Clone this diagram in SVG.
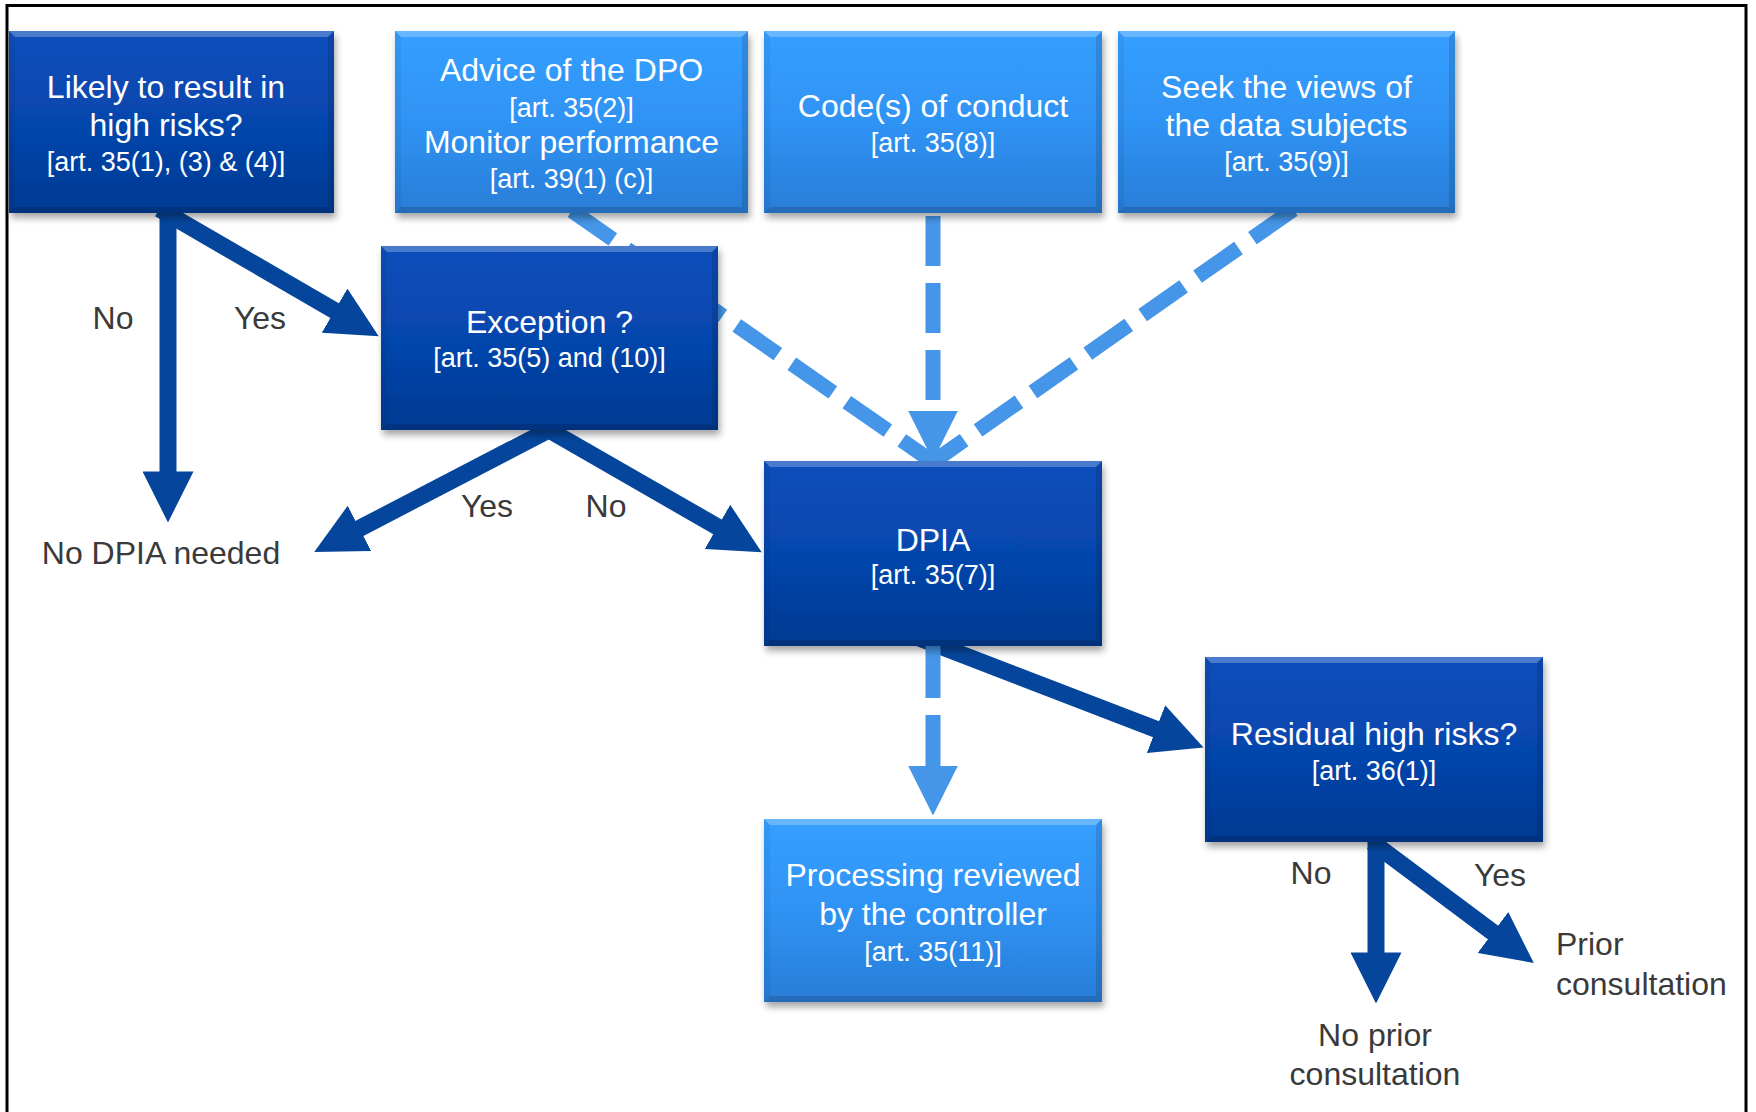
<svg xmlns="http://www.w3.org/2000/svg" width="1756" height="1112" viewBox="0 0 1756 1112">
<defs>
<linearGradient id="gDk" x1="0" y1="0" x2="0" y2="1">
<stop offset="0" stop-color="#0A4FBC"/>
<stop offset="0.5" stop-color="#0646AD"/>
<stop offset="1" stop-color="#043A92"/>
</linearGradient>
<linearGradient id="gLt" x1="0" y1="0" x2="0" y2="1">
<stop offset="0" stop-color="#359FFF"/>
<stop offset="0.5" stop-color="#2F93F4"/>
<stop offset="1" stop-color="#297DD7"/>
</linearGradient>
<filter id="sh" x="-10%" y="-10%" width="125%" height="135%">
<feDropShadow dx="2" dy="5" stdDeviation="3.5" flood-color="#000" flood-opacity="0.35"/>
</filter>
<marker id="hd" viewBox="0 0 10 10" refX="0.3" refY="5" markerWidth="3" markerHeight="3" orient="auto" markerUnits="strokeWidth">
<path d="M0,0 L10,5 L0,10 Z" fill="#05469C"/>
</marker>
<marker id="hl" viewBox="0 0 10 10" refX="0.3" refY="5" markerWidth="3.33" markerHeight="3.33" orient="auto" markerUnits="strokeWidth">
<path d="M0,0 L10,5 L0,10 Z" fill="#4596E8"/>
</marker>
</defs>
<style>
.frame{fill:none;stroke:#000;stroke-width:3}
.cd{fill:none;stroke:#05469C;stroke-width:17;stroke-linecap:butt}
.cl{fill:none;stroke:#4596E8;stroke-width:15;stroke-linecap:butt;stroke-dasharray:50 17}
.dk{fill:url(#gDk);filter:url(#sh)}
.lt{fill:url(#gLt);filter:url(#sh)}
.hi{fill:#fff;opacity:0.25}
.lo{fill:#000;opacity:0.14}
.sl{fill:#000;opacity:0.05}
.sr{fill:#000;opacity:0.12}
text{font-family:"Liberation Sans",Arial,sans-serif;text-anchor:middle}
.t{font-size:32px;fill:#fff}
.s{font-size:27px;fill:#fff}
.lb{font-size:32px;fill:#3a3a3a}
</style>
<rect width="1756" height="1112" fill="#fff"/>
<path class="frame" d="M7,1112 V5.5 H1746 V1112"/>

<g id="connectors">
<path class="cl" d="M933,462 L565,206" stroke-dashoffset="12"/>
<path class="cl" d="M933,462 L1297,207" stroke-dashoffset="12"/>
<path class="cl" d="M933,206 L933,412" stroke-dashoffset="-10" marker-end="url(#hl)"/>
<path class="cd" d="M920,638.4 L1157.4,729.7" marker-end="url(#hd)"/>
<path class="cl" d="M933,646 L933,767" style="stroke-dasharray:52 17" marker-end="url(#hl)"/>
<path class="cd" d="M168,205 L168,473" marker-end="url(#hd)"/>
<path class="cd" d="M159.4,209 L335.9,311.4" marker-end="url(#hd)"/>
<path class="cd" d="M556,426.3 L358.1,529.1" marker-end="url(#hd)"/>
<path class="cd" d="M542,426 L718.8,527.6" marker-end="url(#hd)"/>
<path class="cd" d="M1376,835 L1376,954" marker-end="url(#hd)"/>
<path class="cd" d="M1372,842 L1494.2,933.4" marker-end="url(#hd)"/>
</g>

<g id="labels">
<text class="lb" x="113" y="329">No</text>
<text class="lb" x="260" y="329">Yes</text>
<text class="lb" x="161" y="564">No DPIA needed</text>
<text class="lb" x="487" y="517">Yes</text>
<text class="lb" x="606" y="517">No</text>
<text class="lb" x="1311" y="884">No</text>
<text class="lb" x="1500" y="886">Yes</text>
<text class="lb" x="1556" y="955" style="text-anchor:start">Prior</text>
<text class="lb" x="1556" y="995" style="text-anchor:start">consultation</text>
<text class="lb" x="1375" y="1046">No prior</text>
<text class="lb" x="1375" y="1085">consultation</text>
</g>

<g id="n-likely">
<rect class="dk" x="9" y="31" width="325" height="182"/>
<path class="hi" d="M9,31 H334 L328,37 H15 Z"/>
<path class="lo" d="M9,213 H334 L328,207 H15 Z"/>
<path class="sl" d="M9,31 L15,37 V207 L9,213 Z"/>
<path class="sr" d="M334,31 L328,37 V207 L334,213 Z"/>
<text class="t" x="166" y="98">Likely to result in</text>
<text class="t" x="166" y="136">high risks?</text>
<text class="s" x="166" y="171">[art. 35(1), (3) &amp; (4)]</text>
</g>

<g id="n-dpo">
<rect class="lt" x="395" y="31" width="353" height="182"/>
<path class="hi" d="M395,31 H748 L742,37 H401 Z"/>
<path class="lo" d="M395,213 H748 L742,207 H401 Z"/>
<path class="sl" d="M395,31 L401,37 V207 L395,213 Z"/>
<path class="sr" d="M748,31 L742,37 V207 L748,213 Z"/>
<text class="t" x="571.5" y="81">Advice of the DPO</text>
<text class="s" x="571.5" y="117">[art. 35(2)]</text>
<text class="t" x="571.5" y="153">Monitor performance</text>
<text class="s" x="571.5" y="188">[art. 39(1) (c)]</text>
</g>

<g id="n-code">
<rect class="lt" x="764" y="31" width="338" height="182"/>
<path class="hi" d="M764,31 H1102 L1096,37 H770 Z"/>
<path class="lo" d="M764,213 H1102 L1096,207 H770 Z"/>
<path class="sl" d="M764,31 L770,37 V207 L764,213 Z"/>
<path class="sr" d="M1102,31 L1096,37 V207 L1102,213 Z"/>
<text class="t" x="933" y="117">Code(s) of conduct</text>
<text class="s" x="933" y="152">[art. 35(8)]</text>
</g>

<g id="n-views">
<rect class="lt" x="1118" y="31" width="337" height="182"/>
<path class="hi" d="M1118,31 H1455 L1449,37 H1124 Z"/>
<path class="lo" d="M1118,213 H1455 L1449,207 H1124 Z"/>
<path class="sl" d="M1118,31 L1124,37 V207 L1118,213 Z"/>
<path class="sr" d="M1455,31 L1449,37 V207 L1455,213 Z"/>
<text class="t" x="1286.5" y="98">Seek the views of</text>
<text class="t" x="1286.5" y="136">the data subjects</text>
<text class="s" x="1286.5" y="171">[art. 35(9)]</text>
</g>

<g id="n-exception">
<rect class="dk" x="381" y="246" width="337" height="184"/>
<path class="hi" d="M381,246 H718 L712,252 H387 Z"/>
<path class="lo" d="M381,430 H718 L712,424 H387 Z"/>
<path class="sl" d="M381,246 L387,252 V424 L381,430 Z"/>
<path class="sr" d="M718,246 L712,252 V424 L718,430 Z"/>
<text class="t" x="549.5" y="333">Exception ?</text>
<text class="s" x="549.5" y="367">[art. 35(5) and (10)]</text>
</g>

<g id="n-dpia">
<rect class="dk" x="764" y="461" width="338" height="185"/>
<path class="hi" d="M764,461 H1102 L1096,467 H770 Z"/>
<path class="lo" d="M764,646 H1102 L1096,640 H770 Z"/>
<path class="sl" d="M764,461 L770,467 V640 L764,646 Z"/>
<path class="sr" d="M1102,461 L1096,467 V640 L1102,646 Z"/>
<text class="t" x="933" y="551">DPIA</text>
<text class="s" x="933" y="584">[art. 35(7)]</text>
</g>

<g id="n-residual">
<rect class="dk" x="1205" y="657" width="338" height="185"/>
<path class="hi" d="M1205,657 H1543 L1537,663 H1211 Z"/>
<path class="lo" d="M1205,842 H1543 L1537,836 H1211 Z"/>
<path class="sl" d="M1205,657 L1211,663 V836 L1205,842 Z"/>
<path class="sr" d="M1543,657 L1537,663 V836 L1543,842 Z"/>
<text class="t" x="1374" y="745">Residual high risks?</text>
<text class="s" x="1374" y="780">[art. 36(1)]</text>
</g>

<g id="n-processing">
<rect class="lt" x="764" y="819" width="338" height="183"/>
<path class="hi" d="M764,819 H1102 L1096,825 H770 Z"/>
<path class="lo" d="M764,1002 H1102 L1096,996 H770 Z"/>
<path class="sl" d="M764,819 L770,825 V996 L764,1002 Z"/>
<path class="sr" d="M1102,819 L1096,825 V996 L1102,1002 Z"/>
<text class="t" x="933" y="886">Processing reviewed</text>
<text class="t" x="933" y="925">by the controller</text>
<text class="s" x="933" y="961">[art. 35(11)]</text>
</g>
</svg>
